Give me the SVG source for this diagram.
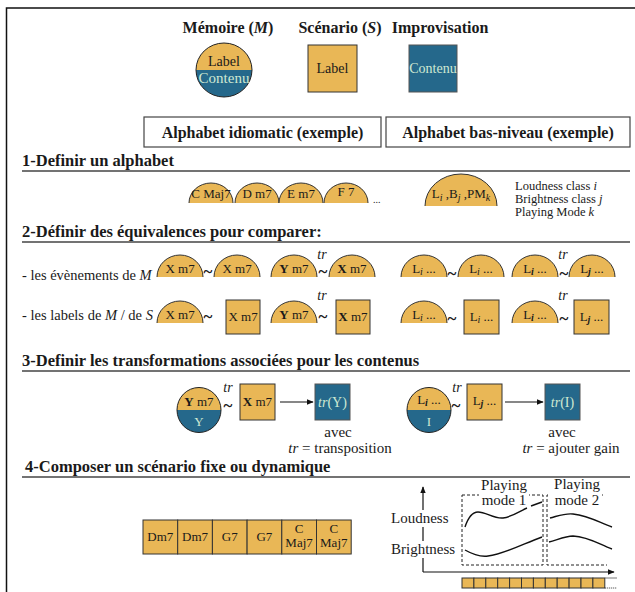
<svg xmlns="http://www.w3.org/2000/svg" width="635" height="592" viewBox="0 0 635 592">
<style>
text{font-family:"Liberation Serif","Times New Roman",serif;fill:#1a1a1a}
.hd{font-size:16px;font-weight:bold}
.sh{font-size:16.5px;font-weight:bold}
.t15{font-size:15px}
.t145{font-size:14.5px}
.t14{font-size:14px}
.lb{font-size:13px;text-anchor:middle}
.mid{text-anchor:middle}
.yel{fill:#E9B756;stroke:#333;stroke-width:1}
.blu{fill:#25688B;stroke:#555;stroke-width:1}
.arc{fill:#E9B756;stroke:#333;stroke-width:1}
.lt{fill:#CFE8D2}
.sec{stroke:#444;stroke-width:1.5;fill:none}
.til{font-size:17px;font-weight:bold;text-anchor:middle}
.tr{font-size:14px;font-style:italic;text-anchor:middle}
.sub{font-size:10px;font-style:italic}
.bi{font-weight:bold;font-style:italic}
.crv{fill:none;stroke:#111;stroke-width:1.4}
.dash{fill:none;stroke:#222;stroke-width:1;stroke-dasharray:3 2}
</style>
<defs>
<marker id="ah" viewBox="0 0 10 10" refX="9" refY="5" markerWidth="7" markerHeight="7" orient="auto" markerUnits="userSpaceOnUse">
<path d="M0,1 L10,5 L0,9 Z" fill="#111"/>
</marker>
</defs>
<rect width="635" height="592" fill="#fff"/>
<g id="frame" fill="none" stroke="#111" stroke-width="1.5">
<path d="M6.5,592 V8 H635"/>
</g>

<g id="legend-memoire">
<text class="hd mid" x="228" y="33">Mémoire (<tspan font-style="italic">M</tspan>)</text>
<path d="M196,70 A28,27 0 0 1 252,70 Z" fill="#E9B756"/>
<path d="M196,70 A28,27 0 0 0 252,70 Z" fill="#25688B"/>
<ellipse cx="224" cy="70" rx="28" ry="27" fill="none" stroke="#222" stroke-width="1"/>
<text class="t14 mid" x="224" y="66">Label</text>
<text class="t15 mid lt" x="224" y="83">Contenu</text>
</g>
<g id="legend-scenario">
<text class="hd mid" x="340" y="33">Scénario (<tspan font-style="italic">S</tspan>)</text>
<rect class="yel" x="308" y="45" width="49" height="47"/>
<text class="t14 mid" x="332.5" y="73">Label</text>
</g>
<g id="legend-impro">
<text class="hd mid" x="440" y="33">Improvisation</text>
<rect class="blu" x="409" y="45" width="48" height="47" stroke="#777"/>
<text class="t14 mid lt" x="433" y="73">Contenu</text>
</g>

<g id="alpha-idiom">
<rect x="144" y="117" width="237" height="30" fill="none" stroke="#444" stroke-width="1.2"/>
<text class="hd mid" x="262.5" y="138">Alphabet idiomatic (exemple)</text>
</g>
<g id="alpha-bas">
<rect x="386" y="117" width="244" height="30" fill="none" stroke="#444" stroke-width="1.2"/>
<text class="hd mid" x="508" y="138">Alphabet bas-niveau (exemple)</text>
</g>

<!-- Section 1 -->
<g id="sec1">
<text class="sh" x="22" y="166">1-Definir un alphabet</text>
<line class="sec" x1="22" y1="171" x2="630" y2="171"/>
<path class="arc" d="M189,203 A22,20 0 0 1 233,203"/>
<path class="arc" d="M235,203 A22,20 0 0 1 279,203"/>
<path class="arc" d="M279,203 A22,20 0 0 1 323,203"/>
<path class="arc" d="M324,203 A22,20 0 0 1 368,203"/>
<text class="lb" x="211" y="198">C Maj7</text>
<text class="lb" x="257" y="198">D m7</text>
<text class="lb" x="301" y="198">E m7</text>
<text class="lb" x="346" y="196">F 7</text>
<text font-size="10" x="373" y="203">...</text>
<path class="arc" d="M425,206 A36,32 0 0 1 497,206"/>
<text class="lb" x="461" y="198">L<tspan class="sub" dy="3">i</tspan><tspan dy="-3"> ,B</tspan><tspan class="sub" dy="3">j</tspan><tspan dy="-3"> ,PM</tspan><tspan class="sub" dy="3">k</tspan></text>
<text font-size="12.5" x="515" y="190">Loudness class <tspan font-style="italic">i</tspan></text>
<text font-size="12.5" x="515" y="203">Brightness class <tspan font-style="italic">j</tspan></text>
<text font-size="12.5" x="515" y="216">Playing Mode <tspan font-style="italic">k</tspan></text>
</g>

<!-- Section 2 -->
<g id="sec2">
<text class="sh" x="22" y="237">2-Définir des équivalences pour comparer:</text>
<line class="sec" x1="22" y1="242" x2="630" y2="242"/>
<text class="t145" x="22" y="280">- les évènements de <tspan font-style="italic">M</tspan></text>
<path class="arc" d="M157,277 A23,22 0 0 1 203,277"/>
<path class="arc" d="M214,277 A23,22 0 0 1 260,277"/>
<path class="arc" d="M271,277 A23,22 0 0 1 317,277"/>
<path class="arc" d="M329,277 A23,22 0 0 1 375,277"/>
<path class="arc" d="M401,277 A23,22 0 0 1 447,277"/>
<path class="arc" d="M458,277 A23,22 0 0 1 504,277"/>
<path class="arc" d="M512,277 A23,22 0 0 1 558,277"/>
<path class="arc" d="M569,277 A23,22 0 0 1 615,277"/>
<text class="lb" x="180" y="273">X m7</text>
<text class="lb" x="237" y="273">X m7</text>
<text class="lb" x="294" y="273"><tspan font-weight="bold">Y</tspan> m7</text>
<text class="lb" x="352" y="273"><tspan font-weight="bold">X</tspan> m7</text>
<text class="lb" x="424" y="273">L<tspan class="sub" dy="2">i</tspan><tspan dy="-2"> ...</tspan></text>
<text class="lb" x="481" y="273">L<tspan class="sub" dy="2">i</tspan><tspan dy="-2"> ...</tspan></text>
<text class="lb" x="535" y="273">L<tspan class="sub bi" dy="2">i</tspan><tspan dy="-2"> ...</tspan></text>
<text class="lb" x="592" y="273">L<tspan class="sub bi" dy="2">j</tspan><tspan dy="-2"> ...</tspan></text>
<text class="til" x="208" y="277">~</text>
<text class="tr" x="322" y="259">tr</text>
<text class="til" x="323" y="277">~</text>
<text class="til" x="452" y="279">~</text>
<text class="tr" x="563" y="259">tr</text>
<text class="til" x="564" y="279">~</text>

<text class="t145" x="22" y="320">- les labels de <tspan font-style="italic">M</tspan> / de <tspan font-style="italic">S</tspan></text>
<path class="arc" d="M157,323 A23,22 0 0 1 203,323"/>
<rect class="yel" x="226" y="300" width="34" height="34"/>
<path class="arc" d="M271,323 A23,22 0 0 1 317,323"/>
<rect class="yel" x="336" y="300" width="34" height="34"/>
<path class="arc" d="M401,323 A23,22 0 0 1 447,323"/>
<rect class="yel" x="464" y="300" width="35" height="34"/>
<path class="arc" d="M512,323 A23,22 0 0 1 558,323"/>
<rect class="yel" x="574" y="300" width="35" height="34"/>
<text class="lb" x="180" y="319">X m7</text>
<text class="lb" x="243" y="321">X m7</text>
<text class="lb" x="294" y="319"><tspan font-weight="bold">Y</tspan> m7</text>
<text class="lb" x="353" y="321"><tspan font-weight="bold">X</tspan> m7</text>
<text class="lb" x="424" y="319">L<tspan class="sub" dy="2">i</tspan><tspan dy="-2"> ...</tspan></text>
<text class="lb" x="481.5" y="321">L<tspan class="sub" dy="2">i</tspan><tspan dy="-2"> ...</tspan></text>
<text class="lb" x="535" y="319">L<tspan class="sub bi" dy="2">i</tspan><tspan dy="-2"> ...</tspan></text>
<text class="lb" x="591.5" y="321">L<tspan class="sub bi" dy="2">j</tspan><tspan dy="-2"> ...</tspan></text>
<text class="til" x="208" y="322">~</text>
<text class="tr" x="322" y="300">tr</text>
<text class="til" x="323" y="322">~</text>
<text class="til" x="452" y="324">~</text>
<text class="tr" x="563" y="300">tr</text>
<text class="til" x="564" y="324">~</text>
</g>

<!-- Section 3 -->
<g id="sec3-head">
<text class="sh" x="22" y="366">3-Definir les transformations associées pour les contenus</text>
<line class="sec" x1="22" y1="371" x2="630" y2="371"/>
</g>
<g id="sec3-circleY">
<path d="M177,410 A22,22.5 0 0 1 221,410 Z" fill="#E9B756"/>
<path d="M177,410 A22,22.5 0 0 0 221,410 Z" fill="#25688B"/>
<ellipse cx="199" cy="410" rx="22" ry="22.5" fill="none" stroke="#222"/>
<text class="lb" x="199" y="406"><tspan font-weight="bold">Y</tspan> m7</text>
<text class="lb lt" x="199" y="426">Y</text>
</g>
<g id="sec3-sqX">
<rect class="yel" x="240" y="384" width="35" height="36"/>
<text class="lb" x="257.5" y="406"><tspan font-weight="bold">X</tspan> m7</text>
</g>
<g id="sec3-trY">
<rect class="blu" x="315" y="384" width="35" height="36"/>
<text class="t14 mid lt" x="332.5" y="407"><tspan font-style="italic" class="lt">tr</tspan>(Y)</text>
</g>
<g id="sec3-txt1">
<text class="t15 mid" x="338" y="437">avec</text>
<text class="t15 mid" x="340" y="453"><tspan font-style="italic">tr</tspan> = transposition</text>
</g>
<g id="sec3-circleI">
<path d="M407,410 A22,22.5 0 0 1 451,410 Z" fill="#E9B756"/>
<path d="M407,410 A22,22.5 0 0 0 451,410 Z" fill="#25688B"/>
<ellipse cx="429" cy="410" rx="22" ry="22.5" fill="none" stroke="#222"/>
<text class="lb" x="429" y="404">L<tspan class="sub bi" dy="2">i</tspan><tspan dy="-2"> ...</tspan></text>
<text class="lb lt" x="429" y="426">I</text>
</g>
<g id="sec3-sqL">
<rect class="yel" x="467" y="384" width="35" height="36"/>
<text class="lb" x="484.5" y="405">L<tspan class="sub bi" dy="2">j</tspan><tspan dy="-2"> ...</tspan></text>
</g>
<g id="sec3-trI">
<rect class="blu" x="545" y="384" width="35" height="36"/>
<text class="t14 mid lt" x="562.5" y="407"><tspan font-style="italic" class="lt">tr</tspan>(I)</text>
</g>
<g id="sec3-txt2">
<text class="t15 mid" x="562" y="437">avec</text>
<text class="t15 mid" x="571" y="453"><tspan font-style="italic">tr</tspan> = ajouter gain</text>
</g>
<g id="sec3-ops">
<text class="tr" x="228" y="392">tr</text>
<text class="til" x="228" y="411">~</text>
<text class="tr" x="457" y="392">tr</text>
<text class="til" x="456" y="411">~</text>
</g>

<!-- Section 4 -->
<g id="sec4-head">
<text class="sh" x="25" y="472">4-Composer un scénario fixe ou dynamique</text>
<line class="sec" x1="22" y1="477" x2="630" y2="477"/>
</g>
<g id="chords">
<rect class="yel" x="143" y="520" width="34.7" height="34"/>
<rect class="yel" x="177.7" y="520" width="34.7" height="34"/>
<rect class="yel" x="212.4" y="520" width="34.7" height="34"/>
<rect class="yel" x="247.1" y="520" width="34.7" height="34"/>
<rect class="yel" x="281.8" y="520" width="34.7" height="34"/>
<rect class="yel" x="316.5" y="520" width="34.7" height="34"/>
<text class="lb" x="160.3" y="541">Dm7</text>
<text class="lb" x="195" y="541">Dm7</text>
<text class="lb" x="229.7" y="541">G7</text>
<text class="lb" x="264.4" y="541">G7</text>
<text class="lb" x="299.1" y="533">C</text>
<text class="lb" x="299.1" y="547">Maj7</text>
<text class="lb" x="333.8" y="533">C</text>
<text class="lb" x="333.8" y="547">Maj7</text>
</g>

<g id="graph">
<g id="connectors">
<line x1="423" y1="572" x2="423" y2="487" stroke="#111" stroke-width="1.2" marker-end="url(#ah)"/>
<line x1="423" y1="572" x2="614" y2="572" stroke="#111" stroke-width="1.2" marker-end="url(#ah)"/>
<line x1="280" y1="402" x2="313" y2="402" stroke="#111" stroke-width="1.2" marker-end="url(#ah)"/>
<line x1="505" y1="402" x2="543" y2="402" stroke="#111" stroke-width="1.2" marker-end="url(#ah)"/>
</g>
<rect x="389" y="510" width="61" height="17" fill="#fff"/>
<rect x="389" y="541" width="69" height="17" fill="#fff"/>
<text class="t15" x="391" y="523">Loudness</text>
<text class="t15" x="391" y="554">Brightness</text>
<rect class="dash" x="462" y="495" width="81" height="70"/>
<path class="dash" d="M603,495 H547 V565 H607"/>
<path class="crv" d="M465,527 C468,518 472,512 478,512 C486,512 494,519 503,518 C512,517 520,511 527,508"/>
<path class="crv" d="M531,506 L542,502"/>
<path class="crv" d="M465,550 C472,554 480,557 488,556 C505,554 525,543 542,537"/>
<path class="crv" d="M550,518 C558,516 565,513 573,514 C590,516 600,523 612,527"/>
<path class="crv" d="M549,542 C557,540 565,536 573,536 C590,537 600,545 612,549"/>
<rect x="479" y="478" width="50" height="29" fill="#fff"/>
<rect x="550" y="478" width="52" height="29" fill="#fff"/>
<text class="t15 mid" x="504" y="490">Playing</text>
<text class="t15 mid" x="504" y="505">mode 1</text>
<text class="t15 mid" x="577" y="489">Playing</text>
<text class="t15 mid" x="577" y="505">mode 2</text>
</g>

<g id="strip">
<rect class="yel" x="462" y="578" width="11.9" height="10"/>
<rect class="yel" x="473.9" y="578" width="11.9" height="10"/>
<rect class="yel" x="485.8" y="578" width="11.9" height="10"/>
<rect class="yel" x="497.7" y="578" width="11.9" height="10"/>
<rect class="yel" x="509.6" y="578" width="11.9" height="10"/>
<rect class="yel" x="521.5" y="578" width="11.9" height="10"/>
<rect class="yel" x="533.4" y="578" width="11.9" height="10"/>
<rect class="yel" x="545.3" y="578" width="11.9" height="10"/>
<rect class="yel" x="557.2" y="578" width="11.9" height="10"/>
<rect class="yel" x="569.1" y="578" width="11.9" height="10"/>
<rect class="yel" x="581" y="578" width="11.9" height="10"/>
<rect class="yel" x="592.9" y="578" width="11.9" height="10"/>
<line x1="604.8" y1="578" x2="617" y2="578" stroke="#555" stroke-width="0.8"/>
<line x1="604.8" y1="588" x2="617" y2="588" stroke="#333" stroke-width="1" stroke-dasharray="1 1"/>
</g>
</svg>
